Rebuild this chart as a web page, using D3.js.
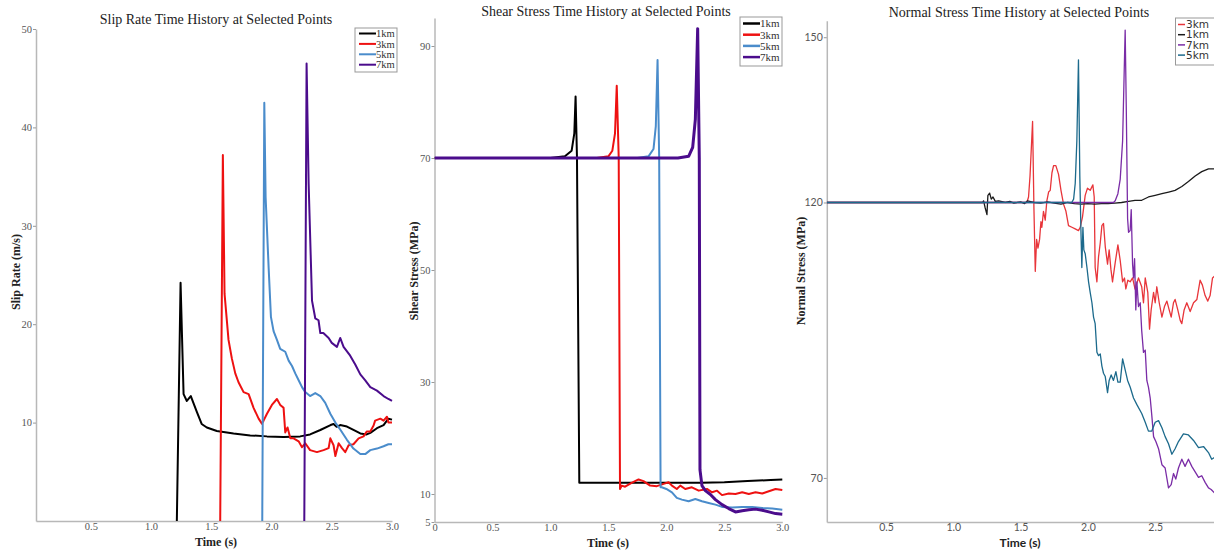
<!DOCTYPE html>
<html><head><meta charset="utf-8">
<script src="https://cdn.jsdelivr.net/npm/d3@7"></script>
<style>body{margin:0;background:#fff} svg{display:block}</style>
</head><body>
<svg id="c" width="1214" height="553"></svg>
<script>
// ---------- Panel 1: slip rate (m/s) ----------
const slipXTicks = [0.5, 1.0, 1.5, 2.0, 2.5, 3.0];
const slipYTicks = [10, 20, 30, 40, 50];
const slip1km = [[1.214,0],[1.245,24.2],[1.27,12.9],[1.297,12.2],[1.33,12.7],[1.38,11.1],[1.42,9.86],[1.463,9.5],[1.546,9.14],[1.685,8.9],[1.823,8.7],[1.962,8.6],[2.1,8.54],[2.238,8.6],[2.32,8.8],[2.405,9.25],[2.49,9.75],[2.515,9.86],[2.54,9.57],[2.57,9.75],[2.626,9.6],[2.68,9.25],[2.737,8.9],[2.79,8.8],[2.82,8.96],[2.875,9.43],[2.93,9.75],[2.97,10.4],[3.0,10.3]];
const slip3km = [[1.574,0],[1.596,37.2],[1.61,23.1],[1.643,18.4],[1.671,16.5],[1.699,15.0],[1.726,14.1],[1.768,13.1],[1.81,12.9],[1.851,11.5],[1.893,10.4],[1.92,9.9],[1.934,10.2],[1.962,10.9],[2.003,11.8],[2.045,12.4],[2.072,11.8],[2.1,11.5],[2.114,9.0],[2.133,9.5],[2.156,8.4],[2.183,8.4],[2.225,8.1],[2.253,7.5],[2.28,7.9],[2.32,7.2],[2.377,7.0],[2.432,7.2],[2.474,7.4],[2.488,8.4],[2.515,7.7],[2.53,6.6],[2.557,7.9],[2.585,7.4],[2.612,7.0],[2.64,7.7],[2.68,7.8],[2.723,8.4],[2.764,8.6],[2.79,9.1],[2.82,9.1],[2.847,9.7],[2.86,10.2],[2.903,10.4],[2.93,10.2],[2.958,10.6],[2.97,10.0],[3.0,10.0]];
const slip5km = [[1.923,0],[1.94,42.5],[1.951,32.9],[1.976,25.75],[1.995,20.75],[2.017,19.3],[2.045,18.4],[2.072,17.5],[2.114,17.2],[2.142,16.3],[2.17,15.75],[2.197,15.0],[2.225,14.3],[2.253,13.6],[2.28,13.1],[2.32,12.7],[2.363,13.0],[2.405,12.7],[2.446,12.0],[2.488,10.9],[2.53,10.0],[2.57,9.3],[2.626,8.25],[2.68,7.36],[2.737,6.8],[2.778,6.8],[2.82,7.2],[2.875,7.36],[2.93,7.6],[2.97,7.8],[3.0,7.8]];
const slip7km = [[2.272,0],[2.291,46.5],[2.308,34.3],[2.336,22.4],[2.363,20.6],[2.39,20.4],[2.405,19.1],[2.43,19.1],[2.474,18.6],[2.5,18.1],[2.543,17.7],[2.57,18.6],[2.598,17.7],[2.653,16.8],[2.695,15.9],[2.737,14.9],[2.778,14.3],[2.82,13.6],[2.875,13.25],[2.93,12.7],[2.97,12.4],[3.0,12.2]];

// ---------- Panel 2: shear stress (MPa) ----------
const shearXTicks = [0, 0.5, 1.0, 1.5, 2.0, 2.5, 3.0];
const shearYTicks = [5, 10, 30, 50, 70, 90];
const shear1km = [[0,70],[1.0,70],[1.125,70.3],[1.183,71.3],[1.206,74.4],[1.217,81.0],[1.229,70],[1.249,12.0],[1.5,12.0],[2.0,12.0],[2.3,12.0],[2.5,12.1],[2.7,12.3],[2.9,12.5],[3.0,12.6]];
const shear3km = [[0,70],[1.4,70],[1.5,70.3],[1.534,71.3],[1.557,74.4],[1.572,82.9],[1.589,70],[1.6,10.9],[1.615,11.5],[1.644,11.3],[1.7,12.0],[1.76,12.6],[1.803,12.3],[1.86,11.5],[1.918,11.4],[1.976,11.8],[2.019,12.1],[2.048,11.5],[2.09,10.9],[2.12,11.5],[2.163,10.9],[2.22,11.2],[2.279,10.6],[2.35,10.9],[2.394,10.3],[2.437,10.6],[2.48,9.8],[2.538,10.1],[2.596,10.0],[2.654,10.3],[2.711,10.0],[2.769,10.3],[2.827,10.1],[2.884,10.5],[2.942,10.9],[3.0,10.7]];
const shear5km = [[0,70],[1.75,70],[1.846,70.3],[1.889,71.6],[1.909,75.7],[1.924,87.5],[1.938,70],[1.95,11.2],[1.96,11.2],[2.0,10.9],[2.048,10.3],[2.09,9.3],[2.134,9.0],[2.192,8.7],[2.25,9.1],[2.307,8.7],[2.365,8.4],[2.423,8.1],[2.48,7.7],[2.567,7.6],[2.654,7.7],[2.74,7.7],[2.827,7.5],[2.913,7.4],[3.0,7.2]];
const shear7km = [[0,70],[2.1,70],[2.192,70.3],[2.227,71.9],[2.25,76.9],[2.27,93.1],[2.284,70],[2.29,14.3],[2.307,11.5],[2.336,10.6],[2.38,9.9],[2.423,9.0],[2.48,8.1],[2.538,7.4],[2.596,6.8],[2.654,7.0],[2.711,7.2],[2.769,7.3],[2.827,7.1],[2.884,6.8],[2.942,6.5],[3.0,6.4]];

// ---------- Panel 3: normal stress (MPa) ----------
const normalXTicks = [0.5, 1.0, 1.5, 2.0, 2.5];
const normalYTicks = [70, 120, 150];
const normal3km = [[0.06,120],[1.547,120],[1.559,121],[1.57,124.8],[1.589,134.7],[1.599,119],[1.609,107.5],[1.619,113.3],[1.629,111.7],[1.641,113.3],[1.651,116.5],[1.658,115.5],[1.67,118.4],[1.683,116.8],[1.695,120.3],[1.708,121.9],[1.72,122.2],[1.733,125.4],[1.745,126.7],[1.762,126.7],[1.782,125.1],[1.8,122.2],[1.819,119.7],[1.837,118.4],[1.856,115.8],[1.881,115.5],[1.906,115.2],[1.93,114.9],[1.943,115.5],[1.96,117.4],[1.98,121.3],[1.997,122.6],[2.017,122.2],[2.037,123.2],[2.047,121],[2.054,108.2],[2.067,105.6],[2.079,110.1],[2.092,112.7],[2.104,115.8],[2.116,116.2],[2.129,112.0],[2.146,108.8],[2.158,111.4],[2.171,107.9],[2.183,105.6],[2.203,109.1],[2.223,112.3],[2.24,109.5],[2.258,105.6],[2.272,106.3],[2.282,104.3],[2.297,105.9],[2.314,105.6],[2.332,106.3],[2.35,104.3],[2.376,106.3],[2.4,104.7],[2.413,101.8],[2.426,106.3],[2.445,103.7],[2.458,97.0],[2.47,100.5],[2.488,103.7],[2.5,101.8],[2.512,104.7],[2.53,101.8],[2.55,99.2],[2.569,101.1],[2.587,102.1],[2.604,100.5],[2.619,99.2],[2.636,101.8],[2.648,102.4],[2.668,100.5],[2.686,98.6],[2.698,98.0],[2.715,100.5],[2.735,101.8],[2.76,100.2],[2.785,101.8],[2.81,102.4],[2.834,105.9],[2.851,105.0],[2.871,103.1],[2.891,102.1],[2.908,103.1],[2.926,106.3],[2.94,106.6]];
const normal1km = [[0.06,120],[1.218,120],[1.225,120.3],[1.237,119.0],[1.25,117.8],[1.257,121.3],[1.27,121.7],[1.282,120.6],[1.295,121],[1.312,120.2],[1.337,120.3],[1.386,120],[1.42,120.2],[1.45,119.9],[1.5,120.1],[1.53,119.8],[1.55,120.3],[1.6,120.0],[1.65,119.9],[1.7,120.1],[1.75,119.9],[1.8,119.7],[1.85,120.0],[1.9,119.8],[1.95,119.7],[2.0,119.8],[2.05,119.7],[2.1,119.8],[2.15,119.8],[2.2,119.9],[2.25,120.0],[2.302,120.2],[2.35,120.4],[2.4,120.4],[2.45,121],[2.5,121.3],[2.55,121.6],[2.6,121.9],[2.648,122.2],[2.698,122.9],[2.747,123.8],[2.797,124.8],[2.846,125.6],[2.896,126.1],[2.94,126.1]];
const normal7km = [[0.06,120],[2.19,120],[2.203,120.3],[2.223,121.6],[2.24,124.2],[2.258,131.2],[2.27,144],[2.277,151.3],[2.285,137.6],[2.295,117.1],[2.302,114.6],[2.314,114.9],[2.322,118.7],[2.332,108.8],[2.339,106.3],[2.347,109.8],[2.356,100.5],[2.364,105.6],[2.376,101.1],[2.389,101.8],[2.4,96.7],[2.413,92.8],[2.426,93.2],[2.438,87.7],[2.45,86.5],[2.463,84.5],[2.475,81.3],[2.488,77.5],[2.505,76.6],[2.525,75.3],[2.55,72.4],[2.574,71.8],[2.599,68.2],[2.619,68.8],[2.636,70.8],[2.653,69.8],[2.673,71.8],[2.698,73.4],[2.722,72.1],[2.747,73.4],[2.772,72.1],[2.797,71.1],[2.822,70.1],[2.846,70.4],[2.871,69.2],[2.896,68.2],[2.916,67.9],[2.94,67.3]];
const normal5km = [[0.06,120],[1.88,120],[1.894,120.6],[1.906,123.5],[1.918,131.2],[1.93,145.9],[1.94,124.8],[1.948,115.2],[1.955,108.2],[1.963,115.5],[1.97,111.4],[1.98,110.7],[1.993,108.2],[2.005,105.6],[2.017,103.7],[2.03,101.8],[2.042,99.2],[2.054,98.0],[2.067,92.8],[2.079,92.2],[2.092,92.5],[2.104,90.3],[2.116,89.0],[2.129,88.4],[2.146,85.5],[2.158,87.7],[2.173,88.7],[2.19,87.7],[2.208,89.3],[2.223,87.4],[2.24,87.4],[2.258,91.6],[2.277,89.6],[2.295,87.7],[2.314,86.5],[2.339,84.5],[2.364,83.3],[2.4,81.7],[2.426,80.1],[2.45,78.5],[2.475,78.5],[2.5,80.1],[2.525,80.4],[2.55,79.1],[2.574,77.5],[2.599,76.2],[2.624,74.3],[2.648,75.3],[2.673,76.6],[2.71,78.0],[2.747,77.8],[2.785,76.8],[2.822,75.5],[2.859,75.7],[2.896,74.6],[2.92,73.4],[2.94,73.7]];

const svg = d3.select("#c");
const SERIF = "'Liberation Serif','Times New Roman',serif";
const SANS = "Lato,'Open Sans',sans-serif";
const WIDE_SANS = "'DejaVu Sans',Verdana,sans-serif";

function panel(cfg) {
  const x = d3.scaleLinear().domain(cfg.xDomain).range(cfg.xRange);
  const y = d3.scaleLinear().domain(cfg.yDomain).range(cfg.yRange);
  const g = svg.append("g");
  const clipId = "clip" + cfg.id;
  svg.append("clipPath").attr("id", clipId).append("rect")
    .attr("x", cfg.xRange[0]).attr("y", 0)
    .attr("width", cfg.xRange[1] - cfg.xRange[0] + 2).attr("height", cfg.yRange[0]);

  const fmt = v => v === 0 ? "0" : d3.format(".1f")(v);
  const xa = g.append("g").attr("transform", `translate(0,${cfg.yRange[0]})`)
    .call(d3.axisBottom(x).tickValues(cfg.xTicks).tickFormat(fmt).tickSize(0).tickSizeOuter(0).tickPadding(2));
  const ya = g.append("g").attr("transform", `translate(${cfg.xRange[0]},0)`)
    .call(d3.axisLeft(y).tickValues(cfg.yTicks).tickFormat(d => String(d)).tickSize(3).tickSizeOuter(0).tickPadding(1));
  [xa, ya].forEach(a => {
    a.select(".domain").attr("stroke", "#b8b8b8").attr("stroke-width", 1.5);
    a.selectAll(".tick line").attr("stroke", "#999");
    a.selectAll(".tick text").attr("fill", "#555").style("font-family", cfg.tickFont).style("font-size", "10.5px");
  });

  const line = d3.line().x(d => x(d[0])).y(d => y(d[1]));
  const lines = g.append("g").attr("clip-path", `url(#${clipId})`);
  cfg.series.forEach(s => {
    lines.append("path").datum(s.data).attr("d", line)
      .attr("fill", "none").attr("stroke", s.color).attr("stroke-width", s.width)
      .attr("stroke-linejoin", "round");
  });

  g.append("text").attr("x", cfg.title[1]).attr("y", cfg.title[2]).attr("text-anchor", "middle")
    .style("font-family", SERIF).style("font-size", "14px").attr("fill", "#222").text(cfg.title[0]);
  g.append("text").attr("x", cfg.xlab[0]).attr("y", cfg.xlab[1]).attr("text-anchor", "middle")
    .style("font-family", cfg.xlabFont).style("font-size", "12px").style("font-weight", "bold").attr("fill", "#222").text("Time (s)");
  g.append("text").attr("transform", `translate(${cfg.ylab[1]},${cfg.ylab[2]}) rotate(-90)`).attr("text-anchor", "middle")
    .style("font-family", SERIF).style("font-size", "12px").style("font-weight", "bold").attr("fill", "#222").text(cfg.ylab[0]);

  const L = cfg.legend;
  const lg = g.append("g");
  lg.append("rect").attr("x", L.x).attr("y", L.y).attr("width", L.w).attr("height", L.h)
    .attr("fill", "#fff").attr("stroke", "#999").attr("stroke-width", 1);
  L.order.forEach((idx, i) => {
    const s = cfg.series[idx];
    const yy = L.y0 + i * L.step;
    lg.append("line").attr("x1", L.lx1).attr("x2", L.lx2).attr("y1", yy).attr("y2", yy)
      .attr("stroke", s.color).attr("stroke-width", L.lw || s.width);
    lg.append("text").attr("x", L.tx).attr("y", yy).attr("dy", "0.35em")
      .style("font-family", L.font).style("font-size", L.fs).attr("fill", "#333").text(s.name);
  });
}

panel({
  id: 1, xDomain: [0.045, 3.0], xRange: [36, 392], yDomain: [0, 50], yRange: [521, 29],
  xTicks: slipXTicks, yTicks: slipYTicks, tickFont: SERIF, xlabFont: SERIF,
  title: ["Slip Rate Time History at Selected Points", 216, 24],
  xlab: [216, 546], ylab: ["Slip Rate (m/s)", 20, 272],
  series: [
    {name: "1km", data: slip1km, color: "#000000", width: 2},
    {name: "3km", data: slip3km, color: "#ee1111", width: 2},
    {name: "5km", data: slip5km, color: "#4a8ccb", width: 2},
    {name: "7km", data: slip7km, color: "#4b0c8c", width: 2}
  ],
  legend: {x: 355, y: 28, w: 42, h: 44, y0: 33.5, step: 10.4, lx1: 359, lx2: 376, tx: 376, font: SERIF, fs: "10.5px", order: [0,1,2,3]}
});

panel({
  id: 2, xDomain: [0, 3.0], xRange: [434.5, 782.3], yDomain: [5, 95], yRange: [522, 18],
  xTicks: shearXTicks, yTicks: shearYTicks, tickFont: SERIF, xlabFont: SERIF,
  title: ["Shear Stress Time History at Selected Points", 606, 15.5],
  xlab: [608, 547], ylab: ["Shear Stress (MPa)", 418, 271],
  series: [
    {name: "1km", data: shear1km, color: "#000000", width: 2},
    {name: "3km", data: shear3km, color: "#ee1111", width: 2},
    {name: "5km", data: shear5km, color: "#4a8ccb", width: 2},
    {name: "7km", data: shear7km, color: "#4b0c8c", width: 3}
  ],
  legend: {x: 740, y: 17, w: 42, h: 49, y0: 23.5, step: 11.2, lx1: 743, lx2: 760, tx: 760, font: SERIF, fs: "11px", lw: 2.5, order: [0,1,2,3]}
});

panel({
  id: 3, xDomain: [0.06, 2.94], xRange: [826.8, 1214.4], yDomain: [62, 153], yRange: [522, 20.7],
  xTicks: normalXTicks, yTicks: normalYTicks, tickFont: SANS, xlabFont: SANS,
  title: ["Normal Stress Time History at Selected Points", 1019, 17],
  xlab: [1020, 547], ylab: ["Normal Stress (MPa)", 805, 271],
  series: [
    {name: "3km", data: normal3km, color: "#e8353a", width: 1.3},
    {name: "1km", data: normal1km, color: "#1a1a1a", width: 1.3},
    {name: "7km", data: normal7km, color: "#7a2ca6", width: 1.3},
    {name: "5km", data: normal5km, color: "#1c6a8c", width: 1.3}
  ],
  legend: {x: 1175.5, y: 18, w: 45, h: 47, y0: 24.5, step: 10.2, lx1: 1178, lx2: 1185, tx: 1186, font: WIDE_SANS, fs: "10.5px", lw: 1.5, order: [0,1,2,3]}
});
</script>
</body></html>
